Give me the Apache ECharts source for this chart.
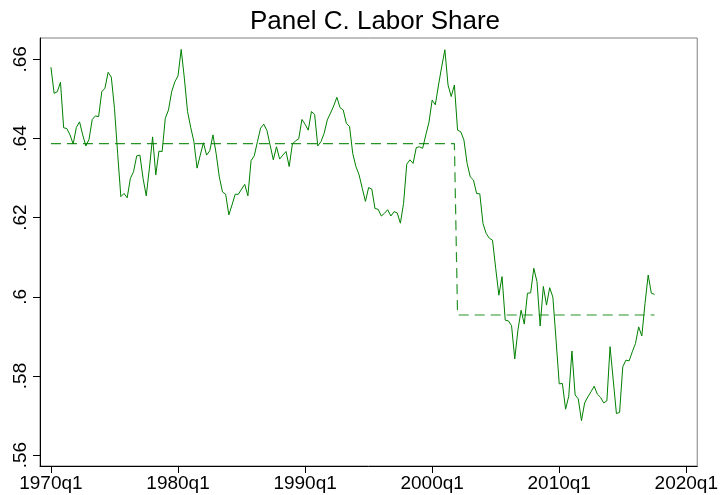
<!DOCTYPE html>
<html><head><meta charset="utf-8">
<script src="https://cdn.jsdelivr.net/npm/echarts@6/dist/echarts.min.js"></script>
<style>html,body{margin:0;padding:0;background:#fff}#c{width:721px;height:495px}</style>
</head><body><div id="c"></div>
<script>
// Quarterly labor share, starting 1970q1
const startYear = 1970;
const laborShare = [
0.6580,0.6514,0.6518,0.6542,0.6427,0.6425,0.6409,0.6386,0.6428,0.6442,
0.6409,0.6381,0.6398,0.6448,0.6457,0.6455,0.6518,0.6527,0.6567,0.6555,
0.6476,0.6362,0.6253,0.6261,0.6250,0.6299,0.6316,0.6356,0.6358,0.6299,
0.6255,0.6325,0.6404,0.6308,0.6368,0.6367,0.6451,0.6472,0.6518,0.6543,
0.6558,0.6625,0.6552,0.6468,0.6428,0.6392,0.6325,0.6358,0.6389,0.6358,
0.6369,0.6409,0.6362,0.6303,0.6265,0.6259,0.6207,0.6232,0.6259,0.6259,
0.6272,0.6284,0.6255,0.6344,0.6356,0.6392,0.6426,0.6436,0.6420,0.6383,
0.6346,0.6379,0.6348,0.6358,0.6367,0.6329,0.6386,0.6394,0.6399,0.6448,
0.6436,0.6421,0.6468,0.6461,0.6381,0.6392,0.6413,0.6447,0.6464,0.6482,
0.6504,0.6478,0.6472,0.6438,0.6430,0.6362,0.6329,0.6308,0.6274,0.6241,
0.6276,0.6272,0.6223,0.6221,0.6204,0.6211,0.6220,0.6204,0.6215,0.6212,
0.6186,0.6236,0.6335,0.6346,0.6337,0.6377,0.6379,0.6375,0.6409,0.6441,
0.6497,0.6485,0.6535,0.6581,0.6624,0.6535,0.6506,0.6535,0.6421,0.6417,
0.6396,0.6337,0.6303,0.6295,0.6261,0.6260,0.6185,0.6160,0.6148,0.6143,
0.6072,0.6004,0.6051,0.5941,0.5939,0.5927,0.5843,0.5916,0.5966,0.5931,
0.6009,0.6010,0.6072,0.6038,0.5926,0.6026,0.5979,0.6023,0.5999,0.5891,
0.5780,0.5781,0.5716,0.5749,0.5863,0.5752,0.5742,0.5687,0.5732,0.5747,
0.5760,0.5774,0.5754,0.5746,0.5732,0.5737,0.5874,0.5790,0.5705,0.5708,
0.5823,0.5840,0.5838,0.5861,0.5882,0.5924,0.5901,0.5983,0.6055,0.6009,
0.6006
];
// Period means (before / from 2002q1)
const periodMeans = [0.6387, 0.5954];
const breakIndex = 128; // 2002q1
const xTickYears = [1970, 1980, 1990, 2000, 2010, 2020];
const yTickValues = [0.56, 0.58, 0.60, 0.62, 0.64, 0.66];
const titleText = 'Panel C. Labor Share';

const quarterX = i => startYear + i / 4;
const lineData = laborShare.map((v, i) => [quarterX(i), v]);
const meanData = laborShare.map((v, i) => [quarterX(i), i < breakIndex ? periodMeans[0] : periodMeans[1]]);

const FONT = 'Liberation Sans, Arial, Helvetica, sans-serif';
const chart = echarts.init(document.getElementById('c'), null, {renderer: 'canvas'});
chart.setOption({
  animation: false,
  backgroundColor: '#fff',
  title: {
    text: titleText, left: 370, top: 4, textAlign: 'center',
    textStyle: {fontFamily: FONT, fontSize: 26, fontWeight: 'normal', color: '#000'}
  },
  grid: {left: 40, right: 20, top: 38, bottom: 29, show: true, borderColor: '#808080', borderWidth: 1, backgroundColor: 'transparent'},
  xAxis: {
    type: 'value', min: 1969.139, max: 2020.86,
    axisLine: {show: true, onZero: false, lineStyle: {color: '#000', width: 1}},
    axisTick: {show: true, customValues: xTickYears, length: 7, lineStyle: {color: '#000'}},
    axisLabel: {customValues: xTickYears, formatter: v => Math.round(v) + 'q1', fontSize: 19, color: '#000', margin: 8, fontFamily: FONT},
    splitLine: {show: false}
  },
  yAxis: {
    type: 'value', min: 0.55725, max: 0.66538,
    axisLine: {show: true, onZero: false, lineStyle: {color: '#000', width: 1}},
    axisTick: {show: true, customValues: yTickValues, length: 7, lineStyle: {color: '#000'}},
    axisLabel: {customValues: yTickValues, rotate: 90, fontSize: 19, color: '#000', margin: 10, fontFamily: FONT,
      formatter: v => v.toFixed(2).replace(/^0/, '').replace(/0$/, '')},
    splitLine: {show: false}
  },
  series: [
    {type: 'line', data: meanData, symbol: 'none', lineStyle: {color: '#008000', width: 1.2, type: [10, 6], opacity: 0.85}, z: 2},
    {type: 'line', data: lineData, symbol: 'none', lineStyle: {color: '#008000', width: 1}, z: 3}
  ]
});
</script></body></html>
